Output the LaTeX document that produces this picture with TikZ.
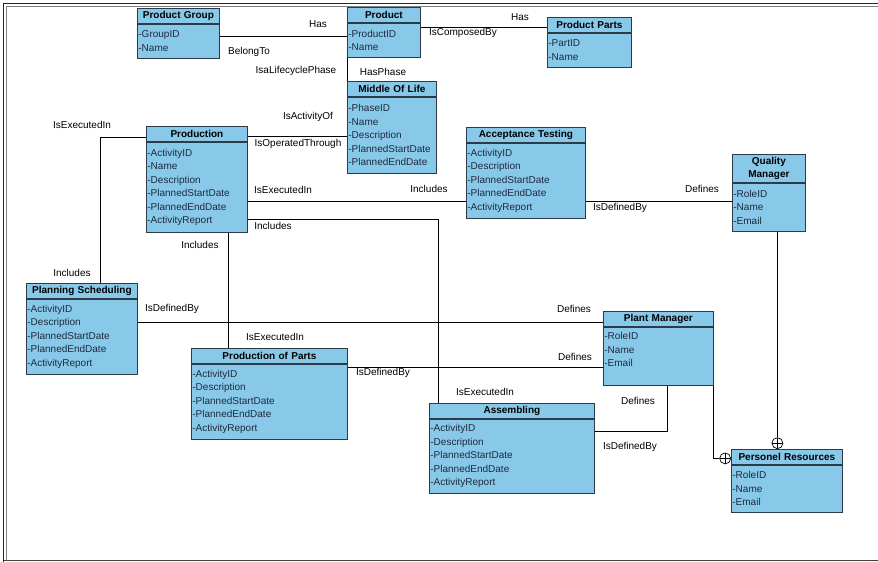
\documentclass[tikz,border=0pt]{standalone}
\usepackage{fontspec}
\setmainfont{Liberation Sans}
\usetikzlibrary{positioning}
\definecolor{erfill}{RGB}{136,201,233}
\definecolor{erline}{RGB}{45,58,72}
\definecolor{attrtext}{RGB}{30,42,62}

\begin{document}
\begin{tikzpicture}[
    x=1pt, y=-1pt,
    font=\fontsize{10}{13.5}\selectfont,
    head/.style={
        draw=erline, fill=erfill, line width=0.8pt,
        anchor=north west,
        text width=#1, align=center,
        inner xsep=1pt, inner ysep=0pt,
        minimum height=15pt,
        font=\fontsize{10}{13.5}\selectfont\bfseries
    },
    attr/.style={
        draw=erline, fill=erfill, line width=0.8pt,
        anchor=north west,
        text width=#1, align=left, text=attrtext,
        inner xsep=1pt, inner ysep=2pt
    },
    rel/.style={draw, line width=0.8pt},
    role/.style={inner sep=1pt},
    incl/.style={
        circle, draw, line width=0.7pt, fill=white,
        minimum size=11pt, inner sep=0pt,
        path picture={
            \draw[line width=0.7pt]
                (path picture bounding box.north) -- (path picture bounding box.south)
                (path picture bounding box.west) -- (path picture bounding box.east);}
    }
]
\useasboundingbox (0,0) rectangle (878,562);

% Frame
\draw[line width=1.4pt, black!85] (3.5,562) -- (3.5,3.5) -- (878,3.5);
\draw[line width=0.9pt, gray] (6.5,560) -- (6.5,6.5) -- (878,6.5);
\draw[line width=1.2pt, black!75] (3.5,560.5) -- (878,560.5);

% Product side
\node[head=80pt] (pGroupH) at (137,8) {Product Group};
\node[attr=80pt, minimum height=34pt] (pGroupA) at (pGroupH.south west) {-GroupID\\-Name};
\node[head=71pt] (prodH) at (347,7) {Product};
\node[attr=71pt, minimum height=34pt] (prodA) at (prodH.south west) {-ProductID\\-Name};
\node[head=82pt] (partsH) at (547,17) {Product Parts};
\node[attr=82pt, minimum height=34pt] (partsA) at (partsH.south west) {-PartID\\-Name};
\node[head=87pt] (molH) at (347,81) {Middle Of Life};
\node[attr=87pt, minimum height=76pt] (molA) at (molH.south west)
  {-PhaseID\\-Name\\-Description\\-PlannedStartDate\\-PlannedEndDate};

% Activities
\node[head=99pt] (pnH) at (146,126) {Production};
\node[attr=99pt, minimum height=90pt] (pnA) at (pnH.south west)
  {-ActivityID\\-Name\\-Description\\-PlannedStartDate\\-PlannedEndDate\\-ActivityReport};
\node[head=117pt] (accH) at (466,127) {Acceptance Testing};
\node[attr=117pt, minimum height=75pt] (accA) at (accH.south west)
  {-ActivityID\\-Description\\-PlannedStartDate\\-PlannedEndDate\\-ActivityReport};
\node[head=109pt] (planH) at (26,283) {Planning Scheduling};
\node[attr=109pt, minimum height=75pt] (planA) at (planH.south west)
  {-ActivityID\\-Description\\-PlannedStartDate\\-PlannedEndDate\\-ActivityReport};
\node[head=154pt] (popH) at (191,348) {Production of Parts};
\node[attr=154pt, minimum height=75pt] (popA) at (popH.south west)
  {-ActivityID\\-Description\\-PlannedStartDate\\-PlannedEndDate\\-ActivityReport};
\node[head=163pt] (asmH) at (429,403) {Assembling};
\node[attr=163pt, minimum height=74pt] (asmA) at (asmH.south west)
  {-ActivityID\\-Description\\-PlannedStartDate\\-PlannedEndDate\\-ActivityReport};

% Roles
\node[head=71pt, minimum height=28pt] (qmH) at (732,154) {Quality\\Manager};
\node[attr=71pt, minimum height=48pt] (qmA) at (qmH.south west) {-RoleID\\-Name\\-Email};
\node[head=108pt] (pmH) at (603,311) {Plant Manager};
\node[attr=108pt, minimum height=58pt] (pmA) at (pmH.south west) {-RoleID\\-Name\\-Email\\~};
\node[head=109pt] (prH) at (731,449) {Personel Resources};
\node[attr=109pt, minimum height=47pt] (prA) at (prH.south west) {-RoleID\\-Name\\-Email};

% Relations
\draw[rel] ([yshift=5pt]pGroupA.east) -- ([yshift=5pt]pGroupA.east -| prodA.west);
\draw[rel] ([yshift=13pt]prodA.east) -- ([yshift=13pt]prodA.east -| partsH.west);
\draw[rel] (prodA.south west) -- (molH.north west);
\draw[rel] ([yshift=-2.5pt]pnH.east) -- ([yshift=-2.5pt]pnH.east -| molA.west);
\draw[rel] ([yshift=-14pt]pnA.east) -- ([yshift=-14pt]pnA.east -| accA.west);
\draw[rel] ([yshift=-32pt]pnA.east) -| ([xshift=9pt]asmH.north west);
\draw[rel] ([xshift=31.5pt]pnA.south) -- ([xshift=31.5pt]pnA.south |- popH.north);
\draw[rel] ([yshift=-3.5pt]pnH.west) -| ([xshift=74pt]planH.north west);
\draw[rel] ([yshift=-20.5pt]accA.east) -- ([yshift=-20.5pt]accA.east -| qmA.west);
\draw[rel] ([yshift=14.5pt]planA.east) -- ([yshift=14.5pt]planA.east -| pmH.west);
\draw[rel] ([yshift=34.5pt]popA.east) -- ([yshift=34.5pt]popA.east -| pmA.west);
\draw[rel] ([yshift=25pt]asmA.east) -| ([xshift=64pt]pmA.south west);

% Containment to Personel Resources
\node[incl, anchor=east] (cpPM) at ([yshift=-1.5pt]prH.west) {};
\node[incl, anchor=south] (cpQM) at ([xshift=-9.5pt]prH.north) {};
\draw[rel] (pmA.south east) |- (cpPM.west);
\draw[rel] (cpQM.north |- qmA.south) -- (cpQM.north);

% Role names
\node[role] (rHasGrp)   at (318,24)  {Has};
\node[role] (rBelong)   at (249,52)  {BelongTo};
\node[role] (rHasParts) at (520,17)  {Has};
\node[role] (rComposed) at (463,33)  {IsComposedBy};
\node[role] (rLifecyc)  at (296,71)  {IsaLifecyclePhase};
\node[role] (rHasPhase) at (383,72)  {HasPhase};
\node[role] (rActOf)    at (308,117) {IsActivityOf};
\node[role] (rOperated) at (298,144) {IsOperatedThrough};
\node[role] (rExecAcc)  at (283,190) {IsExecutedIn};
\node[role] (rInclAcc)  at (429,189) {Includes};
\node[role] (rInclAsm)  at (273,226) {Includes};
\node[role] (rInclPop)  at (200,245) {Includes};
\node[role] (rExecPop)  at (275,337) {IsExecutedIn};
\node[role] (rExecAsm)  at (485,392) {IsExecutedIn};
\node[role] (rExecPlan) at (82,125)  {IsExecutedIn};
\node[role] (rInclPlan) at (72,273)  {Includes};
\node[role] (rDefByPl)  at (172,309) {IsDefinedBy};
\node[role] (rDefPl)    at (574,309) {Defines};
\node[role] (rDefByPop) at (383,373) {IsDefinedBy};
\node[role] (rDefPop)   at (575,357) {Defines};
\node[role] (rDefAsm)   at (638,401) {Defines};
\node[role] (rDefByAsm) at (630,447) {IsDefinedBy};
\node[role] (rDefByAcc) at (620,208) {IsDefinedBy};
\node[role] (rDefAcc)   at (702,189) {Defines};

\end{tikzpicture}
\end{document}
